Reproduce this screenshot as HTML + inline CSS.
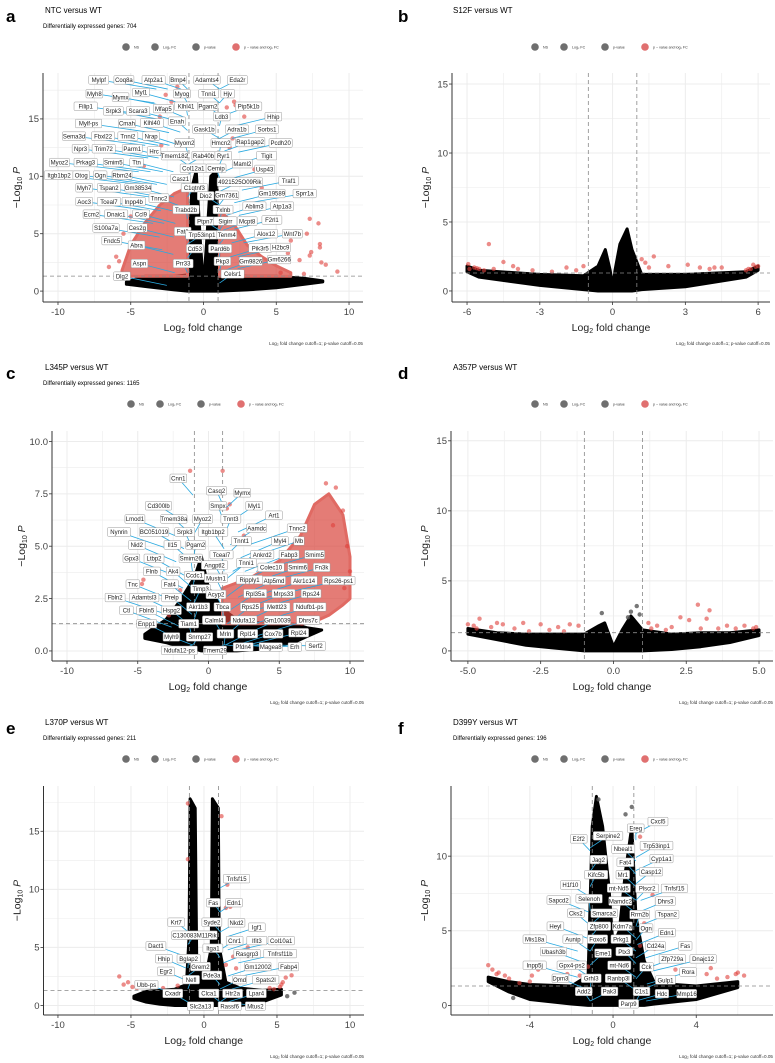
<!DOCTYPE html>
<html><head><meta charset="utf-8">
<style>
html,body{margin:0;padding:0;background:#fff;}
svg{display:block;font-family:"Liberation Sans",sans-serif;}
</style></head>
<body>
<svg id="fig" width="775" height="1063" viewBox="0 0 775 1063" xmlns="http://www.w3.org/2000/svg"></svg>
<script>
// ---------- Panel a data ----------
const aBlackX=[-5.3,-4,-2,-1.1,-1,-0.8,-0.5,-0.2,0,0.2,0.5,0.9,1,1.1,3,5,7,8.2];
const aBlackTop=[0.8,1.3,1.3,1.4,4,9,10.5,4,0.4,4,10,10.5,5,1.4,1.3,1.3,1.1,0.9];
const aBlackBot=[0.6,0.4,0.1,0,0,0,0,0,0,0,0,0,0,0,0.1,0.3,0.6,0.8];
const aRedLX=[-5.6,-5,-4,-3,-2,-1.1];
const aRedLTop=[1.8,4,6,7.5,8.5,9];
const aRedLBot=[1.3,1.3,1.3,1.3,1.3,1.3];
const aRedRX=[1.1,2,3,4,5,6];
const aRedRTop=[7,6,4,3,2.2,1.6];
const aRedRBot=[1.3,1.3,1.3,1.3,1.3,1.3];
const aRedPtsX=[7.3,7.9,8,8,7.4,7.3,8.4,9.2,8.1,6.6,7.1,6.0,6.6,5.8,2.1,2.2,1.6,2.8,2.0,1.8,3.5,4.0,2.4,-2.2,-2.6,-1.8,-3,-3.7,-2.9,-4.1,-4.5,-5,-5.5,-6,-6.5,-5.8,-4.7,6.9,5.3];
const aRedPtsY=[6.3,5.9,4.1,3.8,3.4,3.1,2.3,1.7,2.5,2.7,5.0,4.4,4.9,3.3,16.5,16.2,16,15.2,13.3,12.5,10.6,9.0,11.0,16.5,17.1,17.8,15.2,13.6,12.7,10.9,8,6.5,5,3,2.1,2.6,2.2,1.5,1.6];
const aLabels=[["Mylpf",-7.2,18.4],["Coq8a",-5.47,18.4],["Atp2a1",-3.43,18.4],["Bmp4",-1.75,18.4],["Adamts4",0.24,18.4],["Eda2r",2.33,18.4],
["Myh8",-7.5,17.2],["Mymx",-5.7,16.9],["Myl1",-4.3,17.3],["Myog",-1.48,17.2],["Tnni1",0.36,17.2],["Hjv",1.66,17.2],
["Filip1",-8.1,16.1],["Srpk3",-6.2,15.7],["Scara3",-4.5,15.7],["Mfap5",-2.76,15.9],["Klhl41",-1.2,16.1],["Pgam2",0.3,16.1],["Pip5k1b",3.1,16.1],
["Ldb3",1.25,15.2],["Hhip",4.8,15.2],["Mylf-ps",-7.9,14.6],["Cmah",-5.26,14.6],["Klhl40",-3.55,14.65],["Enah",-1.82,14.8],["Gask1b",0.05,14.1],["Adra1b",2.3,14.1],["Sorbs1",4.36,14.1],
["Sema3d",-8.9,13.5],["Fbxl22",-6.9,13.5],["Tnni2",-5.2,13.5],["Nrap",-3.6,13.5],["Myom2",-1.3,12.9],["Hmcn2",1.2,12.9],["Rap1gap2",3.2,13.0],["Pcdh20",5.3,12.9],
["Npr3",-8.45,12.4],["Trim72",-6.86,12.4],["Parm1",-4.9,12.4],["Hrc",-3.4,12.2],["Tmem182",-2.0,11.8],["Rab40b",0,11.8],["Ryr1",1.36,11.8],["Tigit",4.34,11.8],
["Myoz2",-9.9,11.2],["Prkag3",-8.1,11.2],["Smim5",-6.2,11.2],["Ttn",-4.6,11.2],["Maml2",2.67,11.1],["Col12a1",-0.7,10.7],["Cemip",0.86,10.7],["Usp43",4.2,10.6],
["Itgb1bp2",-9.93,10.1],["Otog",-8.4,10.1],["Ogn",-7.1,10.1],["Rbm24",-5.6,10.1],["Casz1",-1.57,9.8],["4921525O09Rik",2.5,9.5],["Traf1",5.86,9.6],
["C1qtnf3",-0.63,9.0],["Myh7",-8.2,9.0],["Tspan2",-6.5,9.0],["Gm38534",-4.5,9.0],["Tnnc2",-3.06,8.1],["Dio2",0.15,8.3],["Gm7361",1.6,8.35],["Gm19589",4.7,8.5],["Sprr1a",6.95,8.5],
["Aoc3",-8.2,7.8],["Tceal7",-6.5,7.8],["Inpp4b",-4.8,7.8],["Ablim3",3.5,7.4],["Atp1a3",5.4,7.4],["Trabd2b",-1.2,7.1],["Txlnb",1.34,7.1],
["Ecm2",-7.7,6.7],["Dnaic1",-6.0,6.7],["Ccl9",-4.3,6.7],["F2rl1",4.7,6.2],["Ptpn7",0.1,6.1],["Sigirr",1.5,6.1],["Mcpt8",3.0,6.1],
["S100a7a",-6.7,5.5],["Ces2g",-4.55,5.5],["Fat1",-1.43,5.2],["Trp53inp1",-0.1,4.9],["Tenm4",1.6,4.9],["Alox12",4.3,5.0],["Wnt7b",6.1,5.0],
["Fndc5",-6.3,4.4],["Abra",-4.6,4.0],["Cd53",-0.6,3.7],["Pard6b",1.14,3.7],["Pik3r5",3.9,3.75],["H2bc9",5.3,3.8],
["Pkp3",1.3,2.6],["Gm9826",3.25,2.6],["Gm6266",5.2,2.75],["Aspn",-4.4,2.4],["Prr33",-1.4,2.4],["Celsr1",2.0,1.5],["Dlg2",-5.6,1.3]];
const aXTicks=[-10,-5,0,5,10];
const aXTickLabels=["-10","-5","0","5","10"];
const aYTicks=[0,5,10,15];
const aYTickLabels=["0","5","10","15"];

// ---------- Panel b data ----------
const bBlackX=[-6,-5.5,-3,-1.2,-0.6,-0.3,-0.1,0,0.1,0.3,0.6,0.8,1.2,3,5.5,6];
const bBlackTop=[1.8,1.5,1.2,1.1,1.8,3,1.5,0.3,1.5,3.4,4.5,3,1.2,1.2,1.4,1.8];
const bBlackBot=[1.4,1.0,0.4,0.1,0,0,0,0,0,0,0,0,0.1,0.3,1.0,1.5];
const bRedPtsX=[-5.1,-4.5,-4.9,-4.1,-3.9,-3.3,-2.5,-1.9,-1.5,-1.2,1.2,1.35,1.7,1.5,2.3,3.1,3.6,4.0,4.2,4.5,5.8,6,-5.95,-5.9,-5.7,-5.5,-5.3,-5.6,5.6,5.7,5.5,5.9];
const bRedPtsY=[3.4,2.1,1.6,1.8,1.6,1.5,1.4,1.7,1.5,1.8,2.3,2.05,2.5,1.7,1.8,1.9,1.7,1.6,1.7,1.7,1.9,1.8,1.95,1.6,1.7,1.6,1.5,1.65,1.6,1.6,1.5,1.75];
const bXTicks=[-6,-3,0,3,6];
const bXTickLabels=["-6","-3","0","3","6"];
const bYTicks=[0,5,10,15];
const bYTickLabels=["0","5","10","15"];

// ---------- Panel c data ----------
const cBlackX=[-4.5,-3,-2,-1,-0.5,0,0.5,1,2,4,6,7,8];
const cBlackTop=[0.8,1.5,2.4,3.5,4.5,3.0,2.5,2,1.5,1.3,1.3,1.1,1.0];
const cBlackBot=[0.6,0.4,0.2,0.1,0,0,0,0,0,0.1,0.4,0.7,1.0];
const cRedRX=[1,3,5,6.5,7.5,8.5,9.5,10];
const cRedRTop=[3,3.5,4.3,5.5,7,7.5,6.5,4.5];
const cRedRBot=[1.3,1.3,1.3,1.3,1.4,1.7,2.2,2.5];
const cRedPtsX=[-4.6,-4.7,-2.8,-1.3,1.0,8.3,9.0,9.5,10,9.6,7.5,6.6,-3.2,-2.5,-2,1.5,1.3,2.5,3,8.8,9.8];
const cRedPtsY=[3.4,3.2,1.7,8.6,8.6,8.0,7.8,6.7,3.8,3.0,1.5,1.3,2.0,2.6,2.9,7.0,6.8,5.5,4.2,6.0,5.0];
const cLabels=[["Cnn1",-2.13,8.24],["Casq2",0.57,7.65],["Mymx",2.39,7.55],["Smpx",0.67,6.93],["Myl1",3.23,6.93],["Cd300lb",-3.53,6.93],["Art1",4.63,6.48],
["Lmod1",-5.2,6.3],["Tmem38a",-2.45,6.3],["Myoz2",-0.42,6.3],["Tnnt3",1.58,6.3],["Tnnc2",6.27,5.86],["Aamdc",3.4,5.86],
["Nynrin",-6.33,5.68],["BC051019",-3.85,5.68],["Srpk3",-1.68,5.68],["Itgb1bp2",0.32,5.68],["Nid2",-5.07,5.06],["Il15",-2.55,5.06],["Pgam2",-0.9,5.06],
["Tnnt1",2.32,5.25],["Myl4",5.05,5.25],["Mb",6.4,5.25],["Tceal7",0.92,4.6],["Ankrd2",3.8,4.6],["Fabp3",5.7,4.6],["Smim5",7.5,4.6],
["Gpx3",-5.45,4.42],["Ltbp2",-3.85,4.42],["Smim26",-1.26,4.42],["Angptl2",0.43,4.1],["Tnni1",2.67,4.2],["Colec10",4.42,3.99],["Smim6",6.3,3.99],["Fn3k",8.0,3.99],
["Flnb",-4,3.8],["Ak4",-2.5,3.8],["Ccdc1",-1,3.6],["Mustn1",0.53,3.47],["Ripply1",2.9,3.4],["Atp5md",4.63,3.36],["Akr1c14",6.76,3.36],["Rps26-ps1",9.2,3.36],
["Tnc",-5.35,3.19],["Fat4",-2.73,3.19],["Timp3",-0.56,2.96],["Acyp2",0.53,2.7],["Rpl35a",3.3,2.74],["Mrps33",5.3,2.74],["Rps24",7.25,2.74],
["Fbln2",-6.6,2.55],["Adamtsl3",-4.55,2.55],["Prelp",-2.6,2.55],["Akr1b3",-0.73,2.1],["Tbca",0.98,2.1],["Rps25",2.95,2.1],["Mettl23",4.83,2.1],["Ndufb1-ps",7.15,2.1],
["Ctl",-5.8,1.94],["Fbln5",-4.37,1.94],["Hspg2",-2.62,1.94],["Calml4",0.39,1.47],["Ndufa12",2.5,1.47],["Gm10039",4.87,1.47],["Dhrs7c",7.04,1.47],
["Enpp1",-4.37,1.3],["Tiam1",-1.4,1.3],["Myh9",-2.62,0.67],["Snrnp27",-0.63,0.67],["Mrln",1.2,0.82],["Rpl14",2.77,0.82],["Cox7b",4.56,0.82],["Rpl24",6.37,0.87],
["Ndufa12-ps",-2.06,0.03],["Tmem29",0.46,0.03],["Pfdn4",2.45,0.19],["Magea8",4.4,0.19],["Erh",6.1,0.19],["Serf2",7.57,0.24]];
const cXTicks=[-10,-5,0,5,10];
const cXTickLabels=["-10","-5","0","5","10"];
const cYTicks=[0,2.5,5,7.5,10];
const cYTickLabels=["0.0","2.5","5.0","7.5","10.0"];

// ---------- Panel d data ----------
const dBlackX=[-5,-4,-3,-2,-1,-0.5,-0.3,0,0.3,0.6,1,2,3,4,5];
const dBlackTop=[1.6,1.3,1.2,1.2,1.2,1.8,2,0.3,1.5,2.5,1.5,1.2,1.3,1.3,1.5];
const dBlackBot=[1.2,0.8,0.4,0.2,0,0,0,0,0,0,0,0.1,0.3,0.6,1.1];
const dRedPtsX=[-5,-4.8,-4.7,-4.6,-4.2,-4.0,-3.8,-3.4,-3.1,-2.9,-2.5,-2.2,-1.9,-1.7,-1.5,-1.2,1.2,1.3,1.5,1.8,2.0,2.3,2.6,2.9,3.0,3.2,3.3,3.6,3.9,4.2,4.5,4.8,4.9];
const dRedPtsY=[1.9,1.8,1.6,2.3,1.7,2.0,1.9,1.6,2.0,1.4,1.9,1.5,1.7,1.4,1.9,1.8,2.0,1.6,1.8,1.5,1.7,2.4,2.2,3.3,1.6,2.3,2.9,1.6,1.8,1.6,1.8,1.6,1.7];
const dGrayPtsX=[0.6,0.8,0.9,-0.4,0.5];
const dGrayPtsY=[2.8,3.2,2.6,2.7,2.4];
const dXTicks=[-5,-2.5,0,2.5,5];
const dXTickLabels=["-5.0","-2.5","0.0","2.5","5.0"];
const dYTicks=[0,5,10,15];
const dYTickLabels=["0","5","10","15"];

// ---------- Panel e data ----------
const eBlackX=[-4.8,-4,-3,-2,-1.2,-1.02,-0.95,-0.6,-0.5,-0.2,0,0.2,0.5,0.58,0.98,1.05,1.5,2.5,4,5.3];
const eBlackTop=[0.8,1.2,1.3,1.4,1.8,6,17.8,17,4,3,3,3,5,17.8,17,5,2,1.5,1.3,1.4];
const eBlackBot=[0.6,0.3,0.1,0,0,0,0,0,0,0,0,0,0,0,0,0,0,0,0.3,0.9];
const eRedPtsX=[-5.8,-5.2,-5.5,-4.9,-4.6,-1.1,-1.1,1.2,1.6,1.8,1.5,2.0,1.5,2.2,5.4,5.6,6.0,5.2,5.3,-3.4,-2.8,-1.8,3.0,2.5,4.5,4.8];
const eRedPtsY=[2.5,2.0,1.8,1.6,1.5,17.4,12.6,16.3,10.4,8.5,8.4,4.2,3.5,3.2,2.0,2.4,2.6,1.6,1.8,1.9,1.5,1.7,5.0,4.5,1.5,1.4];
const eGrayPtsX=[5.7,6.2];
const eGrayPtsY=[0.8,1.1];
const eLabels=[["Tnfsf15",2.23,10.92],["Fas",0.64,8.85],["Edn1",2.06,8.85],["Krt7",-1.9,7.17],["Syde2",0.54,7.17],["Nkd2",2.23,7.12],["Igf1",3.62,6.74],
["C130083M11Rik",-0.65,6.05],["Cnr1",2.1,5.59],["Ifit3",3.62,5.59],["Col10a1",5.29,5.59],["Dact1",-3.29,5.13],["Itga1",0.61,4.93],["Rasgrp3",2.95,4.47],["Tnfrsf11b",5.22,4.47],
["Hhip",-2.75,4.03],["Bglap2",-1.05,4.03],["Grem2",-0.24,3.35],["Gm12002",3.69,3.35],["Fabp4",5.8,3.35],["Egr2",-2.61,2.94],["Pde3a",0.54,2.6],
["Nefl",-0.88,2.22],["Omd",2.44,2.22],["Spats2l",4.23,2.22],["Ubb-ps",-3.94,1.79],["Cxadr",-2.14,1.04],["Clca1",0.34,1.04],["Htr2a",1.96,1.04],["Lpar4",3.59,1.04],
["Slc2a13",-0.24,-0.05],["Rassf6",1.76,-0.05],["Mtus2",3.52,-0.05]];
const eXTicks=[-10,-5,0,5,10];
const eXTickLabels=["-10","-5","0","5","10"];
const eYTicks=[0,5,10,15];
const eYTickLabels=["0","5","10","15"];

// ---------- Panel f data ----------
const fBlackX=[-6,-5,-4,-2,-1.2,-1,-0.8,-0.5,-0.2,0,0.3,0.6,0.9,1.1,1.5,2,4,6];
const fBlackTop=[1.9,1.6,1.4,1.3,2,12,14,12,8,4,5,9,12,6,3,1.5,1.3,1.6];
const fBlackBot=[1.6,0.9,0.4,0.1,0,0,0,0,0,0,0,0,0,0,0,0.1,0.4,1.2];
const fRedPtsX=[-6,-5.8,-5.5,-5.2,-5,-4.5,-4,-3.6,-3.9,-2.8,-2.2,-1.6,-1.2,1.2,1.3,1.4,1.6,1.9,1.5,1.3,2,2.5,3,3.5,4.5,4.7,5,5.5,5.9,6,6.3,-5.6];
const fRedPtsY=[2.7,2.4,2.2,2.0,1.8,1.5,1.6,2.4,2.0,1.9,2.1,2.0,2.6,11.8,11.3,10.5,10.8,7.4,5.5,4.0,3.8,3.0,2.4,2.2,2.1,2.5,1.8,1.9,2.1,2.2,2.0,2.1];
const fGrayPtsX=[-4.8,0.6,0.9,-0.7];
const fGrayPtsY=[0.5,12.8,13.3,13.8];
const fLabels=[["Cxcl5",2.16,12.32],["Ereg",1.09,11.87],["Serpine2",-0.24,11.36],["E2f2",-1.65,11.16],["Trp53inp1",2.09,10.71],["Nbeal1",0.49,10.48],["Cyp1a1",2.33,9.84],
["Jag2",-0.7,9.77],["Fat4",0.59,9.59],["Casp12",1.83,8.96],["Kifc5b",-0.81,8.76],["Mr1",0.47,8.76],["H1f10",-2.05,8.07],["mt-Nd5",0.28,7.86],["Plscr2",1.64,7.84],["Tnfsf15",2.95,7.84],
["Sapcd2",-2.62,7.06],["Selenoh",-1.15,7.15],["Mamdc2",0.35,6.99],["Dhrs3",2.52,6.99],["Cks2",-1.79,6.18],["Smarca2",-0.43,6.18],["Rrm2b",1.28,6.09],["Tspan2",2.61,6.09],
["Heyl",-2.77,5.31],["Zfp800",-0.67,5.31],["Kdm7a",0.45,5.31],["Ogn",1.59,5.18],["Edn1",2.59,4.88],["Mis18a",-3.77,4.44],["Aunip",-1.93,4.44],["Foxo6",-0.74,4.44],["Prkg1",0.38,4.44],
["Cd24a",2.04,3.99],["Fas",3.47,3.99],["Ubash3b",-2.86,3.61],["Eme1",-0.48,3.5],["Ptx3",0.54,3.61],["Zfp729a",2.85,3.12],["Dnajc12",4.33,3.12],
["Inpp5j",-3.77,2.69],["Gpx4-ps2",-1.98,2.69],["mt-Nd6",0.3,2.69],["Cck",1.61,2.58],["Rora",3.61,2.24],["Dpm3",-2.53,1.82],["Grhl3",-1.05,1.82],["Ranbp3l",0.26,1.82],["Gulp1",2.52,1.7],
["Add2",-1.41,0.94],["Pak3",-0.17,0.94],["C1s1",1.37,0.94],["Hdc",2.35,0.79],["Mmp16",3.54,0.79],["Parp9",0.75,0.11]];
const fXTicks=[-4,0,4];
const fXTickLabels=["-4","0","4"];
const fYTicks=[0,5,10];
const fYTickLabels=["0","5","10"];

// ---------- rendering ----------
const NS="http://www.w3.org/2000/svg";
const svg=document.getElementById('fig');
function mk(tag,attrs,parent){const e=document.createElementNS(NS,tag);for(const k in attrs)e.setAttribute(k,attrs[k]);(parent||svg).appendChild(e);return e;}

const panels=[
 {id:'a',ox:0,oy:0,L:43,R:363,T:73,B:302,xd:[-11.03,10.96],yd:[-0.95,19],title:'NTC versus WT',sub:'Differentially expressed genes: 704',
  xt:aXTicks,xtl:aXTickLabels,yt:aYTicks,ytl:aYTickLabels,bx:aBlackX,bt:aBlackTop,bb:aBlackBot,
  reg:[[aRedLX,aRedLTop,aRedLBot],[aRedRX,aRedRTop,aRedRBot]],rx:aRedPtsX,ry:aRedPtsY,gx:[],gy:[],lab:aLabels,legX:126},
 {id:'b',ox:0,oy:0,L:452,R:770,T:73,B:302,xd:[-6.62,6.49],yd:[-0.8,15.8],title:'S12F versus WT',sub:'',
  xt:bXTicks,xtl:bXTickLabels,yt:bYTicks,ytl:bYTickLabels,bx:bBlackX,bt:bBlackTop,bb:bBlackBot,
  reg:[],rx:bRedPtsX,ry:bRedPtsY,gx:[],gy:[],lab:[],legX:535},
 {id:'c',ox:0,oy:357,L:52,R:364,T:74,B:304,xd:[-11.06,10.99],yd:[-0.48,10.5],title:'L345P versus WT',sub:'Differentially expressed genes: 1165',
  xt:cXTicks,xtl:cXTickLabels,yt:cYTicks,ytl:cYTickLabels,bx:cBlackX,bt:cBlackTop,bb:cBlackBot,
  reg:[[cRedRX,cRedRTop,cRedRBot]],rx:cRedPtsX,ry:cRedPtsY,gx:[],gy:[],lab:cLabels,legX:131},
 {id:'d',ox:0,oy:357,L:451,R:773,T:74,B:304,xd:[-5.58,5.48],yd:[-0.72,15.7],title:'A357P versus WT',sub:'',
  xt:dXTicks,xtl:dXTickLabels,yt:dYTicks,ytl:dYTickLabels,bx:dBlackX,bt:dBlackTop,bb:dBlackBot,
  reg:[],rx:dRedPtsX,ry:dRedPtsY,gx:dGrayPtsX,gy:dGrayPtsY,lab:[],legX:535},
 {id:'e',ox:0,oy:712,L:43.5,R:364,T:74,B:303,xd:[-10.99,10.96],yd:[-0.82,18.9],title:'L370P versus WT',sub:'Differentially expressed genes: 211',
  xt:eXTicks,xtl:eXTickLabels,yt:eYTicks,ytl:eYTickLabels,bx:eBlackX,bt:eBlackTop,bb:eBlackBot,
  reg:[],rx:eRedPtsX,ry:eRedPtsY,gx:eGrayPtsX,gy:eGrayPtsY,lab:eLabels,legX:126},
 {id:'f',ox:0,oy:712,L:451,R:773,T:74,B:303,xd:[-7.79,7.69],yd:[-0.64,14.7],title:'D399Y versus WT',sub:'Differentially expressed genes: 196',
  xt:fXTicks,xtl:fXTickLabels,yt:fYTicks,ytl:fYTickLabels,bx:fBlackX,bt:fBlackTop,bb:fBlackBot,
  reg:[],rx:fRedPtsX,ry:fRedPtsY,gx:fGrayPtsX,gy:fGrayPtsY,lab:fLabels,legX:535}
];

panels.forEach(p=>{
 const g=mk('g',{});
 
 
 const T=p.oy+p.T,B=p.oy+p.B;
 const sx=v=>p.L+(v-p.xd[0])/(p.xd[1]-p.xd[0])*(p.R-p.L);
 const sy=v=>B-(v-p.yd[0])/(p.yd[1]-p.yd[0])*(B-T);
 const letterX=p.L<200?6:398;
 const lt=mk('text',{x:letterX,y:p.oy+22,'font-size':17,'font-weight':'bold',fill:'#000'},g);lt.textContent=p.id;
 
 const tt=mk('text',{x:p.L<200?45:453,y:p.oy+13,'font-size':8,fill:'#000'},g);tt.textContent=p.title;
 
 if(p.sub){const st=mk('text',{x:p.L<200?43:453,y:p.oy+28,'font-size':6,fill:'#000'},g);st.textContent=p.sub;
  }
 const lg=mk('g',{},g);
 
 const legItems=[['NS','#6f6f6f',0],['Log\u2082 FC','#6f6f6f',29],['p-value','#6f6f6f',70],['p \u2212 value and log\u2082 FC','#e07070',110]];
 legItems.forEach(it=>{
  const c=mk('circle',{cx:p.legX+it[2],cy:p.oy+47,r:3.8,fill:it[1]},lg);
  
  const t=mk('text',{x:p.legX+it[2]+8,y:p.oy+48.5,'font-size':3.6,fill:'#333'},lg);t.textContent=it[0];
  
 });
 const grid=mk('g',{},g);
 const xs=p.xt[1]-p.xt[0], ys=p.yt[1]-p.yt[0];
 for(let v=p.xt[0]-xs;v<=p.xt[p.xt.length-1]+xs;v+=xs/2){const X=sx(v);if(X<p.L||X>p.R)continue;
  mk('line',{x1:X,x2:X,y1:T,y2:B,stroke:'#ececec','stroke-width':(Math.abs((v-p.xt[0])/xs%1)<1e-6)?1:0.6},grid);}
 for(let v=p.yt[0]-ys;v<=p.yt[p.yt.length-1]+ys;v+=ys/2){const Y=sy(v);if(Y<T||Y>B)continue;
  mk('line',{x1:p.L,x2:p.R,y1:Y,y2:Y,stroke:'#ececec','stroke-width':(Math.abs((v-p.yt[0])/ys%1)<1e-6)?1:0.6},grid);}
 const cid='clip'+p.id;const cp=mk('clipPath',{id:cid},g);mk('rect',{x:p.L,y:T,width:p.R-p.L,height:B-T},cp);
 const plot=mk('g',{'clip-path':'url(#'+cid+')'},g);
 
 let d='';p.bx.forEach((x,i)=>{d+=(i?'L':'M')+sx(x).toFixed(1)+','+sy(p.bt[i]).toFixed(1);});
 for(let i=p.bx.length-1;i>=0;i--)d+='L'+sx(p.bx[i]).toFixed(1)+','+sy(p.bb[i]).toFixed(1);
 const bk=mk('path',{d:d+'Z',fill:'#000',stroke:'#000','stroke-width':3,'stroke-linejoin':'round'},plot);
 
 p.reg.forEach(r=>{let d2='';r[0].forEach((x,i)=>{d2+=(i?'L':'M')+sx(x).toFixed(1)+','+sy(r[1][i]).toFixed(1);});
  for(let i=r[0].length-1;i>=0;i--)d2+='L'+sx(r[0][i]).toFixed(1)+','+sy(r[2][i]).toFixed(1);
  const rr=mk('path',{d:d2+'Z',fill:'#d8453c',stroke:'#e06a63','stroke-width':3,'stroke-linejoin':'round','fill-opacity':0.7},plot);
  });
 p.rx.forEach((x,i)=>{const c=mk('circle',{cx:sx(x),cy:sy(p.ry[i]),r:2.2,fill:'#e0403a','fill-opacity':0.6},plot);
  });
 p.gx.forEach((x,i)=>{const c=mk('circle',{cx:sx(x),cy:sy(p.gy[i]),r:2.2,fill:'#555','fill-opacity':0.8},plot);
  });
 [-1,1].forEach(v=>{const l=mk('line',{x1:sx(v),x2:sx(v),y1:T,y2:B,stroke:'#888','stroke-width':0.8,'stroke-dasharray':'4,3'},plot);
  });
 const hl=mk('line',{x1:p.L,x2:p.R,y1:sy(1.301),y2:sy(1.301),stroke:'#888','stroke-width':0.8,'stroke-dasharray':'4,3'},plot);
 
 p.lab.forEach(l=>{
  const X=sx(l[1]),Y=sy(l[2]);
  const tx=l[1]>0?Math.max(1.1,l[1]*0.45):Math.min(-1.1,l[1]*0.45);
  const cn=mk('line',{x1:X,y1:Y,x2:sx(tx),y2:sy(Math.max(0.3,l[2]-0.8)),stroke:'#29a9e0','stroke-width':0.8},plot);
  
 });
 p.lab.forEach(l=>{
  const X=sx(l[1]),Y=sy(l[2]);const w=l[0].length*3.2+4;
  const lgp=mk('g',{},g);
  mk('rect',{x:X-w/2,y:Y-4.3,width:w,height:8.6,rx:1,fill:'#fff',stroke:'#999','stroke-width':0.5},lgp);
  const t=mk('text',{x:X,y:Y+2.2,'font-size':6,'text-anchor':'middle',fill:'#222'},lgp);t.textContent=l[0];
 });
 const ax=mk('line',{x1:p.L,x2:p.L,y1:T,y2:B,stroke:'#333','stroke-width':1},g);
 const bx=mk('line',{x1:p.L,x2:p.R,y1:B,y2:B,stroke:'#333','stroke-width':1},g);
 p.xt.forEach((v,i)=>{const X=sx(v);mk('line',{x1:X,x2:X,y1:B,y2:B+3,stroke:'#333','stroke-width':0.8},g);
  const t=mk('text',{x:X,y:B+13,'font-size':9.5,'text-anchor':'middle',fill:'#444'},g);t.textContent=p.xtl[i];
  });
 p.yt.forEach((v,i)=>{const Y=sy(v);mk('line',{x1:p.L-3,x2:p.L,y1:Y,y2:Y,stroke:'#333','stroke-width':0.8},g);
  const t=mk('text',{x:p.L-4,y:Y+3.3,'font-size':9.5,'text-anchor':'end',fill:'#444'},g);t.textContent=p.ytl[i];
  });
 const xtl=mk('text',{x:(p.L+p.R)/2,y:B+29,'font-size':10.5,'text-anchor':'middle',fill:'#222'},g);
 xtl.innerHTML='Log<tspan font-size="7" dy="2">2</tspan><tspan dy="-2"> fold change</tspan>';
 
 const yx=p.L-(p.id==='c'?27:23),yy=(T+B)/2;
 const ytl=mk('text',{x:yx,y:yy,'font-size':10.5,'text-anchor':'middle',fill:'#222',transform:'rotate(-90 '+yx+' '+yy+')'},g);
 ytl.innerHTML='\u2212Log<tspan font-size="7" dy="2">10</tspan><tspan dy="-2" font-style="italic"> P</tspan>';
 
 const cap=mk('text',{x:p.R,y:B+43,'font-size':4.6,'text-anchor':'end',fill:'#333'},g);
 cap.textContent='Log\u2082 fold change cutoff=1; p-value cutoff=0.05';
 
});
</script>
</body></html>
